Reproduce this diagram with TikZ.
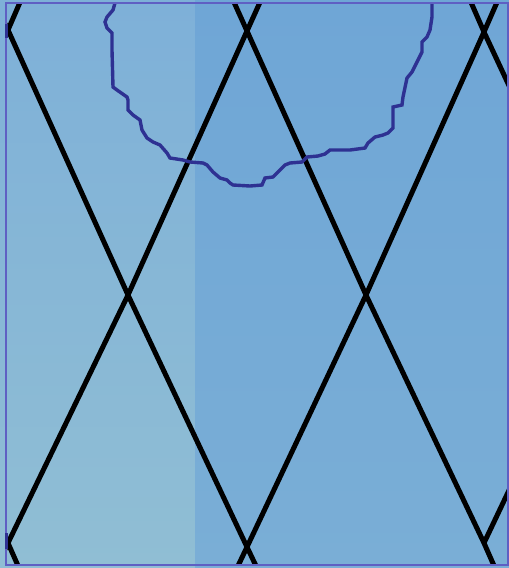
\documentclass[tikz,border=0pt]{standalone}
\usetikzlibrary{calc}
\definecolor{leftTop}{RGB}{126,176,216}
\definecolor{leftBot}{RGB}{144,190,212}
\definecolor{rightTop}{RGB}{111,166,214}
\definecolor{rightBot}{RGB}{122,174,214}
\definecolor{frameC}{RGB}{95,95,195}
\definecolor{curveC}{RGB}{46,49,146}
\tikzset{
  xline/.style={black,line width=5pt,line join=round},
  wave/.style={curveC,line width=3.4pt,line join=miter},
  frameline/.style={frameC,line width=1.2pt},
  edgemark/.style={curveC,line width=3pt}
}
\begin{document}
\begin{tikzpicture}[x=1pt,y=-1pt]
\useasboundingbox (0,0) rectangle (509,568);
% background
\shade[top color=leftTop,bottom color=leftBot] (0,0) rectangle (195,568);
\shade[top color=rightTop,bottom color=rightBot] (195,0) rectangle (509,568);
% crossing points
\coordinate (A1) at (8,30);
\coordinate (A2) at (247,31);
\coordinate (A3) at (484,32);
\coordinate (M1) at (128,295);
\coordinate (M2) at (366,295);
\coordinate (B1) at (8,543);
\coordinate (B2) at (247,547);
\coordinate (B3) at (484,543);
\begin{scope}
\clip (6,3) rectangle (508,565);
\draw[xline] (21,0) -- (A1) -- (M1) -- (B2) -- (257,568);
\draw[xline] (233,0) -- (A2) -- (M1) -- (B1) -- (4,551);
\draw[xline] (B1) -- (19,568);
\draw[xline] (A1) -- (4,22);
\draw[xline] (261,0) -- (A2) -- (M2) -- (B3) -- (495,568);
\draw[xline] (470,0) -- (A3) -- (M2) -- (B2) -- (237,568);
\draw[xline] (498,0) -- (A3) -- (512,92);
\draw[xline] (B3) -- (512,484);
% wavy curve
\draw[wave] (115,3) -- (113,10) -- (107,17) -- (105,22) -- (107,28) -- (112,33) -- (112,50)
  -- (113,87) -- (117,90) -- (127,97) -- (128,100) -- (128,110) -- (133,115) -- (140,120)
  -- (142,130) -- (147,138) -- (153,142) -- (160,145) -- (167,153) -- (170,158) -- (183,160)
  -- (190,162) -- (203,163) -- (207,165) -- (213,172) -- (220,178) -- (227,180) -- (230,183)
  -- (233,185) -- (250,186) -- (262,185) -- (265,178) -- (273,177) -- (277,173) -- (285,165)
  -- (290,163) -- (302,162) -- (307,157) -- (318,156) -- (325,154) -- (330,150) -- (350,150)
  -- (365,148) -- (368,143) -- (375,137) -- (383,135) -- (388,133) -- (393,128) -- (393,107)
  -- (402,105) -- (403,97) -- (407,78) -- (412,72) -- (417,62) -- (422,52) -- (422,42)
  -- (427,37) -- (430,30) -- (432,17) -- (432,3);
\end{scope}
% frame
\draw[frameline] (6,3) rectangle (508,565);
\draw[edgemark] (6,24) -- (6,38);
\draw[edgemark] (6,533) -- (6,549);
\end{tikzpicture}
\end{document}
